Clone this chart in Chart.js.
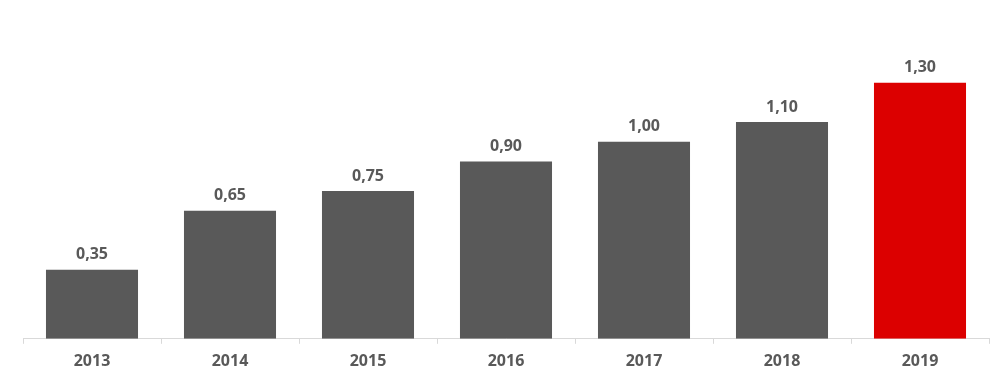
<!DOCTYPE html>
<html>
<head>
<meta charset="utf-8">
<script src="https://cdn.jsdelivr.net/npm/chart.js@4/dist/chart.umd.min.js"></script>
<style>
  html, body { margin: 0; padding: 0; background: #fff; }
  .wrap { width: 990px; height: 382px; }
</style>
</head>
<body>
<div class="wrap"><canvas id="myChart" width="990" height="382"></canvas></div>
<script>
const years = ['2013', '2014', '2015', '2016', '2017', '2018', '2019'];
const values = [0.35, 0.65, 0.75, 0.90, 1.00, 1.10, 1.30];
const barColors = ['#595959', '#595959', '#595959', '#595959', '#595959', '#595959', '#dc0000'];

const ctx = document.getElementById('myChart');

// etiquetas encima de cada barra
const valueLabels = {
  id: 'valueLabels',
  afterDatasetsDraw(chart) {
    const c = chart.ctx;
    const meta = chart.getDatasetMeta(0);
    c.save();
    c.font = 'bold 16px "Open Sans"';
    c.fillStyle = '#595959';
    c.textAlign = 'center';
    c.textBaseline = 'middle';
    meta.data.forEach((bar, i) => {
      c.fillText(values[i].toFixed(2).replace('.', ','), bar.x, bar.y - 15);
    });
    c.restore();
  }
};

new Chart(ctx, {
  type: 'bar',
  data: {
    labels: years,
    datasets: [{
      data: values,
      backgroundColor: barColors,
      categoryPercentage: 1,
      barPercentage: 0.667
    }]
  },
  options: {
    responsive: false,
    animation: false,
    layout: { padding: { left: 23, right: 1, top: 63, bottom: 3 } },
    plugins: { legend: { display: false }, tooltip: { enabled: false } },
    scales: {
      y: { display: false, min: 0, max: 1.4 },
      x: {
        grid: { drawOnChartArea: false, color: '#d9d9d9', tickLength: 5 },
        border: { color: '#d9d9d9' },
        ticks: { color: '#595959', font: { family: 'Open Sans', weight: 'bold', size: 16 }, padding: 8 }
      }
    }
  },
  plugins: [valueLabels]
});
</script>
</body>
</html>
